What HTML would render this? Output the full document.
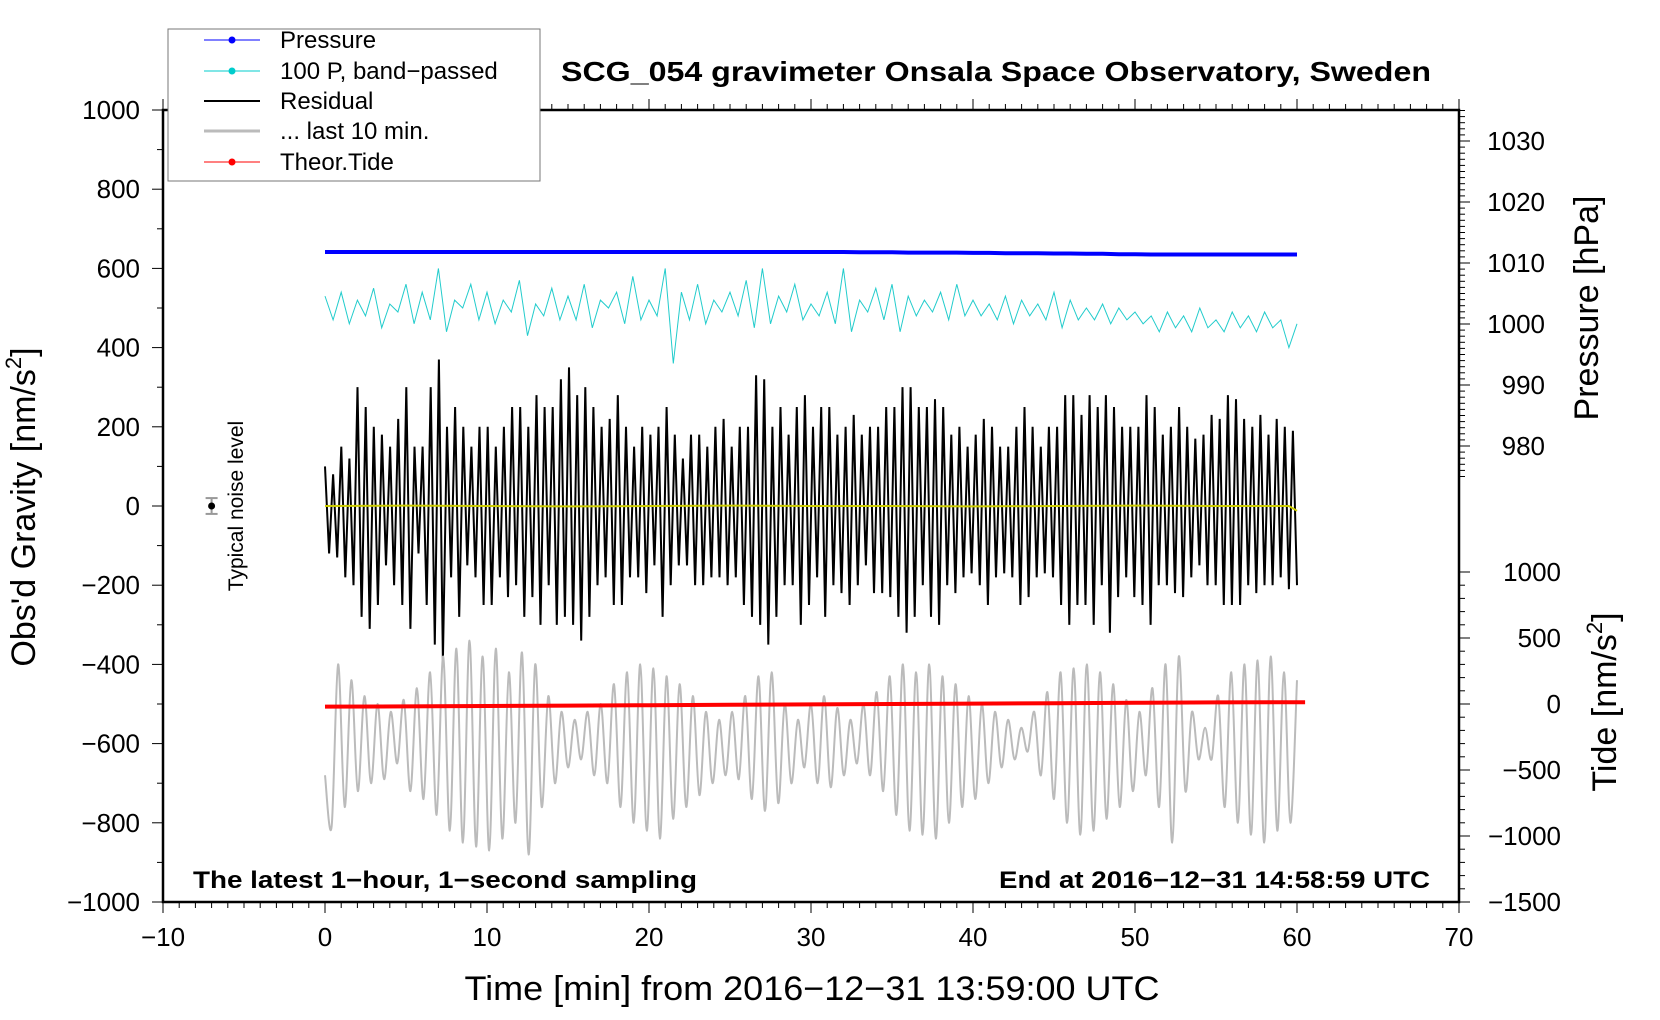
<!DOCTYPE html>
<html><head><meta charset="utf-8">
<style>
html,body{margin:0;padding:0;background:#fff;}
svg{display:block;font-family:"Liberation Sans",sans-serif;}
</style></head>
<body>
<svg id="chart" width="1660" height="1020" viewBox="0 0 1660 1020" xmlns="http://www.w3.org/2000/svg">
<rect width="1660" height="1020" fill="#fff"/>
<g id="marks"></g>
<g id="axes"></g>
<text x="996" y="81" text-anchor="middle" font-size="28" font-weight="bold" textLength="870" lengthAdjust="spacingAndGlyphs">SCG_054 gravimeter Onsala Space Observatory, Sweden</text>
<text x="193" y="888" font-size="24" font-weight="bold" textLength="504" lengthAdjust="spacingAndGlyphs">The latest 1−hour, 1−second sampling</text>
<text x="1430" y="888" text-anchor="end" font-size="24" font-weight="bold" textLength="431" lengthAdjust="spacingAndGlyphs">End at 2016−12−31 14:58:59 UTC</text>
<text x="812" y="1000" text-anchor="middle" font-size="34" textLength="695" lengthAdjust="spacingAndGlyphs">Time [min] from 2016−12−31 13:59:00 UTC</text>
<text transform="translate(35,507) rotate(-90)" text-anchor="middle" font-size="34">Obs'd Gravity [nm/s<tspan font-size="22" dy="-14">2</tspan><tspan dy="14">]</tspan></text>
<text transform="translate(1598,308) rotate(-90)" text-anchor="middle" font-size="34">Pressure [hPa]</text>
<text transform="translate(1616,702) rotate(-90)" text-anchor="middle" font-size="34">Tide [nm/s<tspan font-size="22" dy="-14">2</tspan><tspan dy="14">]</tspan></text>
<text transform="translate(243,506) rotate(-90)" text-anchor="middle" font-size="21">Typical noise level</text>
<g>
<rect x="168" y="29" width="372" height="152" fill="#fff" stroke="#777" stroke-width="1"/>
<g><line x1="204" y1="40" x2="260" y2="40" stroke="#00f" stroke-width="1"/><circle cx="232" cy="40" r="3.5" fill="#00f"/><text x="280" y="48" font-size="24">Pressure</text></g>
<g><line x1="204" y1="71" x2="260" y2="71" stroke="#0cc" stroke-width="1"/><circle cx="232" cy="71" r="3.5" fill="#0cc"/><text x="280" y="79" font-size="24">100 P, band−passed</text></g>
<g><line x1="204" y1="101" x2="260" y2="101" stroke="#000" stroke-width="2"/><text x="280" y="109" font-size="24">Residual</text></g>
<g><line x1="204" y1="131" x2="260" y2="131" stroke="#bbb" stroke-width="3"/><text x="280" y="139" font-size="24">... last 10 min.</text></g>
<g><line x1="204" y1="162" x2="260" y2="162" stroke="#f00" stroke-width="1"/><circle cx="232" cy="162" r="3.5" fill="#f00"/><text x="280" y="170" font-size="24">Theor.Tide</text></g>
</g>
</svg>
<script>
// ---- data ----
const residualValues = [100,-120,80,-130,150,-180,120,-200,300,-280,250,-310,200,-250,180,-150,150,-200,220,-250,300,-310,150,-120,150,-250,300,-350,370,-390,200,-180,250,-280,200,-150,150,-180,200,-250,200,-250,150,-180,200,-230,250,-200,250,-280,200,-230,280,-300,250,-200,250,-300,320,-280,350,-300,280,-340,300,-280,250,-200,200,-180,220,-250,280,-250,200,-180,150,-180,200,-220,180,-150,200,-280,250,-200,180,-150,120,-150,180,-200,180,-200,150,-180,200,-180,220,-200,150,-180,200,-250,200,-280,330,-300,320,-350,200,-280,250,-200,180,-200,250,-300,280,-250,200,-180,250,-280,250,-200,180,-220,200,-250,230,-200,180,-150,200,-220,200,-220,250,-230,250,-280,300,-320,300,-280,250,-200,250,-280,270,-300,250,-200,180,-220,200,-180,150,-170,180,-200,220,-250,200,-180,150,-170,150,-180,200,-250,250,-230,200,-180,150,-170,200,-180,200,-250,280,-300,280,-250,230,-250,280,-300,250,-200,280,-320,250,-230,200,-180,200,-230,200,-250,280,-300,250,-200,180,-200,200,-220,250,-230,200,-180,170,-150,180,-200,230,-200,220,-250,280,-250,270,-250,220,-200,200,-220,230,-200,180,-200,220,-180,200,-210,190,-200];
const bandpassValues = [530,470,540,460,520,480,550,450,510,490,560,460,540,470,600,440,520,500,560,470,540,460,520,490,570,430,510,480,550,470,530,470,560,450,520,500,540,460,580,470,520,480,600,360,540,470,560,460,520,490,540,480,570,450,600,460,530,490,560,470,510,480,540,460,600,440,520,490,550,470,560,440,530,480,520,490,540,470,560,480,520,480,510,470,530,460,520,480,510,470,540,450,520,470,500,470,510,460,500,470,490,460,480,440,490,450,480,440,500,450,470,440,490,450,480,440,490,450,470,400,460];
const last10Values = [-680,-810,-400,-760,-440,-720,-480,-700,-500,-690,-520,-650,-490,-720,-460,-740,-420,-780,-380,-820,-360,-850,-340,-860,-380,-870,-360,-840,-420,-800,-370,-880,-400,-760,-480,-700,-520,-660,-540,-640,-520,-680,-500,-700,-450,-760,-420,-800,-400,-820,-410,-840,-430,-790,-450,-760,-480,-730,-520,-700,-540,-680,-520,-690,-480,-740,-430,-770,-420,-750,-500,-700,-540,-660,-500,-700,-480,-710,-510,-680,-540,-650,-500,-680,-470,-720,-430,-780,-400,-820,-420,-830,-400,-840,-430,-800,-450,-760,-480,-740,-500,-700,-520,-660,-540,-640,-560,-620,-520,-680,-470,-740,-420,-800,-410,-830,-400,-820,-420,-790,-450,-760,-490,-720,-520,-680,-460,-760,-400,-850,-380,-720,-520,-640,-560,-640,-480,-760,-420,-800,-400,-830,-390,-850,-380,-820,-420,-800,-440];
const pressureValues = [1011.8,1011.8,1011.8,1011.8,1011.8,1011.8,1011.8,1011.8,1011.8,1011.8,1011.8,1011.8,1011.8,1011.8,1011.8,1011.8,1011.8,1011.8,1011.8,1011.8,1011.8,1011.8,1011.8,1011.8,1011.8,1011.8,1011.8,1011.8,1011.8,1011.8,1011.8,1011.8,1011.8,1011.75,1011.75,1011.75,1011.7,1011.7,1011.7,1011.7,1011.65,1011.65,1011.6,1011.6,1011.6,1011.55,1011.55,1011.5,1011.5,1011.45,1011.45,1011.4,1011.4,1011.4,1011.4,1011.4,1011.4,1011.4,1011.4,1011.4,1011.4];
const tideTimes = [0,5,10,15,20,25,30,35,40,45,50,55,60.5];
const tideValues = [-20,-18,-15,-12,-9,-6,-3,0,3,6,9,12,14];
const yellowTimes = [0,5,10,15,20,25,30,35,40,45,50,55,59.5,60];
const yellowValues = [0,1,0,-1,0,1,0,0,-1,0,1,0,0,-12];
const xTicks = [-10,0,10,20,30,40,50,60,70];
const yTicks = [-1000,-800,-600,-400,-200,0,200,400,600,800,1000];
const pTicks = [980,990,1000,1010,1020,1030];
const tTicks = [-1500,-1000,-500,0,500,1000];

// ---- scales ----
const X = t => 163 + (t + 10) * 16.2;
const Yg = v => 506 - v * 0.396;
const Yp = p => 141 + (1030 - p) * 6.1;
const Yt = v => 704 - v * 0.132;
const NS = "http://www.w3.org/2000/svg";
const marks = document.getElementById('marks');
const axes = document.getElementById('axes');
function mk(tag, parent) { const e = document.createElementNS(NS, tag); parent.appendChild(e); return e; }
function series(vals) { const dt = 60 / (vals.length - 1); return vals.map((v, i) => [i * dt, v]); }
function poly(pts, fx, fy) { return pts.map(p => fx(p[0]).toFixed(1) + ',' + fy(p[1]).toFixed(1)).join(' '); }

let pl = mk('polyline', marks);


pl.setAttribute('points', poly(series(pressureValues), X, Yp));
pl.setAttribute('fill', 'none'); pl.setAttribute('stroke', '#00f'); pl.setAttribute('stroke-width', '4');

let bp = mk('polyline', marks);


bp.setAttribute('points', poly(series(bandpassValues), X, Yg));
bp.setAttribute('fill', 'none'); bp.setAttribute('stroke', '#2cc'); bp.setAttribute('stroke-width', '1');

let rl = mk('polyline', marks);


rl.setAttribute('points', poly(series(residualValues), X, Yg));
rl.setAttribute('fill', 'none'); rl.setAttribute('stroke', '#000'); rl.setAttribute('stroke-width', '2');

let yl = mk('polyline', marks);


yl.setAttribute('points', poly(yellowTimes.map((t, i) => [t, yellowValues[i]]), X, Yg));
yl.setAttribute('fill', 'none'); yl.setAttribute('stroke', '#cc0'); yl.setAttribute('stroke-width', '2');

(function () {
  const pts = series(last10Values).map(p => [X(p[0]), Yg(p[1])]);
  let d = 'M' + pts[0][0].toFixed(1) + ',' + pts[0][1].toFixed(1);
  for (let i = 0; i < pts.length - 1; i++) {
    const p0 = pts[Math.max(0, i - 1)], p1 = pts[i], p2 = pts[i + 1], p3 = pts[Math.min(pts.length - 1, i + 2)];
    const c1x = p1[0] + (p2[0] - p0[0]) / 6, c1y = p1[1] + (p2[1] - p0[1]) / 6;
    const c2x = p2[0] - (p3[0] - p1[0]) / 6, c2y = p2[1] - (p3[1] - p1[1]) / 6;
    d += ' C' + c1x.toFixed(1) + ',' + c1y.toFixed(1) + ' ' + c2x.toFixed(1) + ',' + c2y.toFixed(1) + ' ' + p2[0].toFixed(1) + ',' + p2[1].toFixed(1);
  }
  const g = mk('path', marks);
  
  
  g.setAttribute('d', d); g.setAttribute('fill', 'none'); g.setAttribute('stroke', '#bbb'); g.setAttribute('stroke-width', '2');
})();

let tl = mk('polyline', marks);


tl.setAttribute('points', poly(tideTimes.map((t, i) => [t, tideValues[i]]), X, Yt));
tl.setAttribute('fill', 'none'); tl.setAttribute('stroke', '#f00'); tl.setAttribute('stroke-width', '4');

const nx = X(-7);
let eb = mk('line', marks);


eb.setAttribute('x1', nx); eb.setAttribute('x2', nx); eb.setAttribute('y1', Yg(20)); eb.setAttribute('y2', Yg(-20));
eb.setAttribute('stroke', '#999'); eb.setAttribute('stroke-width', '2');
for (const v of [20, -20]) {
  const c = mk('line', marks);
  
  
  c.setAttribute('x1', nx - 6); c.setAttribute('x2', nx + 6); c.setAttribute('y1', Yg(v)); c.setAttribute('y2', Yg(v));
  c.setAttribute('stroke', '#999'); c.setAttribute('stroke-width', '2');
}
let nd = mk('circle', marks);


nd.setAttribute('cx', nx); nd.setAttribute('cy', Yg(0)); nd.setAttribute('r', '3.5');

function line(x1, y1, x2, y2, w, name) {
  const l = mk('line', axes);
  
  
  l.setAttribute('x1', x1); l.setAttribute('y1', y1); l.setAttribute('x2', x2); l.setAttribute('y2', y2);
  l.setAttribute('stroke', '#000'); l.setAttribute('stroke-width', w);
}
function label(x, y, s, anchor, name) {
  const t = mk('text', axes);
  
  
  t.setAttribute('x', x); t.setAttribute('y', y); t.setAttribute('text-anchor', anchor); t.setAttribute('font-size', '26');
  t.textContent = String(s).replace('-', '\u2212');
}
const L = 163, R = 1459, T = 110, B = 902;
const frame = mk('rect', axes);


frame.setAttribute('x', L); frame.setAttribute('y', T); frame.setAttribute('width', R - L); frame.setAttribute('height', B - T);
frame.setAttribute('fill', 'none'); frame.setAttribute('stroke', '#000'); frame.setAttribute('stroke-width', '2.5');
for (let t = -10; t <= 70; t++) {
  const major = t % 10 === 0;
  line(X(t), B, X(t), B + (major ? 11 : 6), 1, 'x-tick');
  line(X(t), T, X(t), T - (major ? 11 : 6), 1, 'x-top-tick');
}
xTicks.forEach(t => label(X(t), 946, t, 'middle', 'x-tick-label'));
for (let v = -1000; v <= 1000; v += 100) line(L, Yg(v), L - (v % 200 === 0 ? 11 : 6), Yg(v), 1, 'y-tick');
yTicks.forEach(v => label(140, Yg(v) + 9, v, 'end', 'y-tick-label'));
for (let p = 975; p <= 1035; p++) { const y = Yp(p); if (y < T) continue; line(R, y, R + (p % 10 === 0 ? 11 : 6), y, 1, 'pressure-tick'); }
pTicks.forEach(p => label(1545, Yp(p) + 9, p, 'end', 'pressure-tick-label'));
for (let v = -1500; v <= 1000; v += 100) line(R, Yt(v), R + (v % 500 === 0 ? 11 : 6), Yt(v), 1, 'tide-tick');
tTicks.forEach(v => label(1561, Yt(v) + 9, v, 'end', 'tide-tick-label'));
</script>
</body></html>
